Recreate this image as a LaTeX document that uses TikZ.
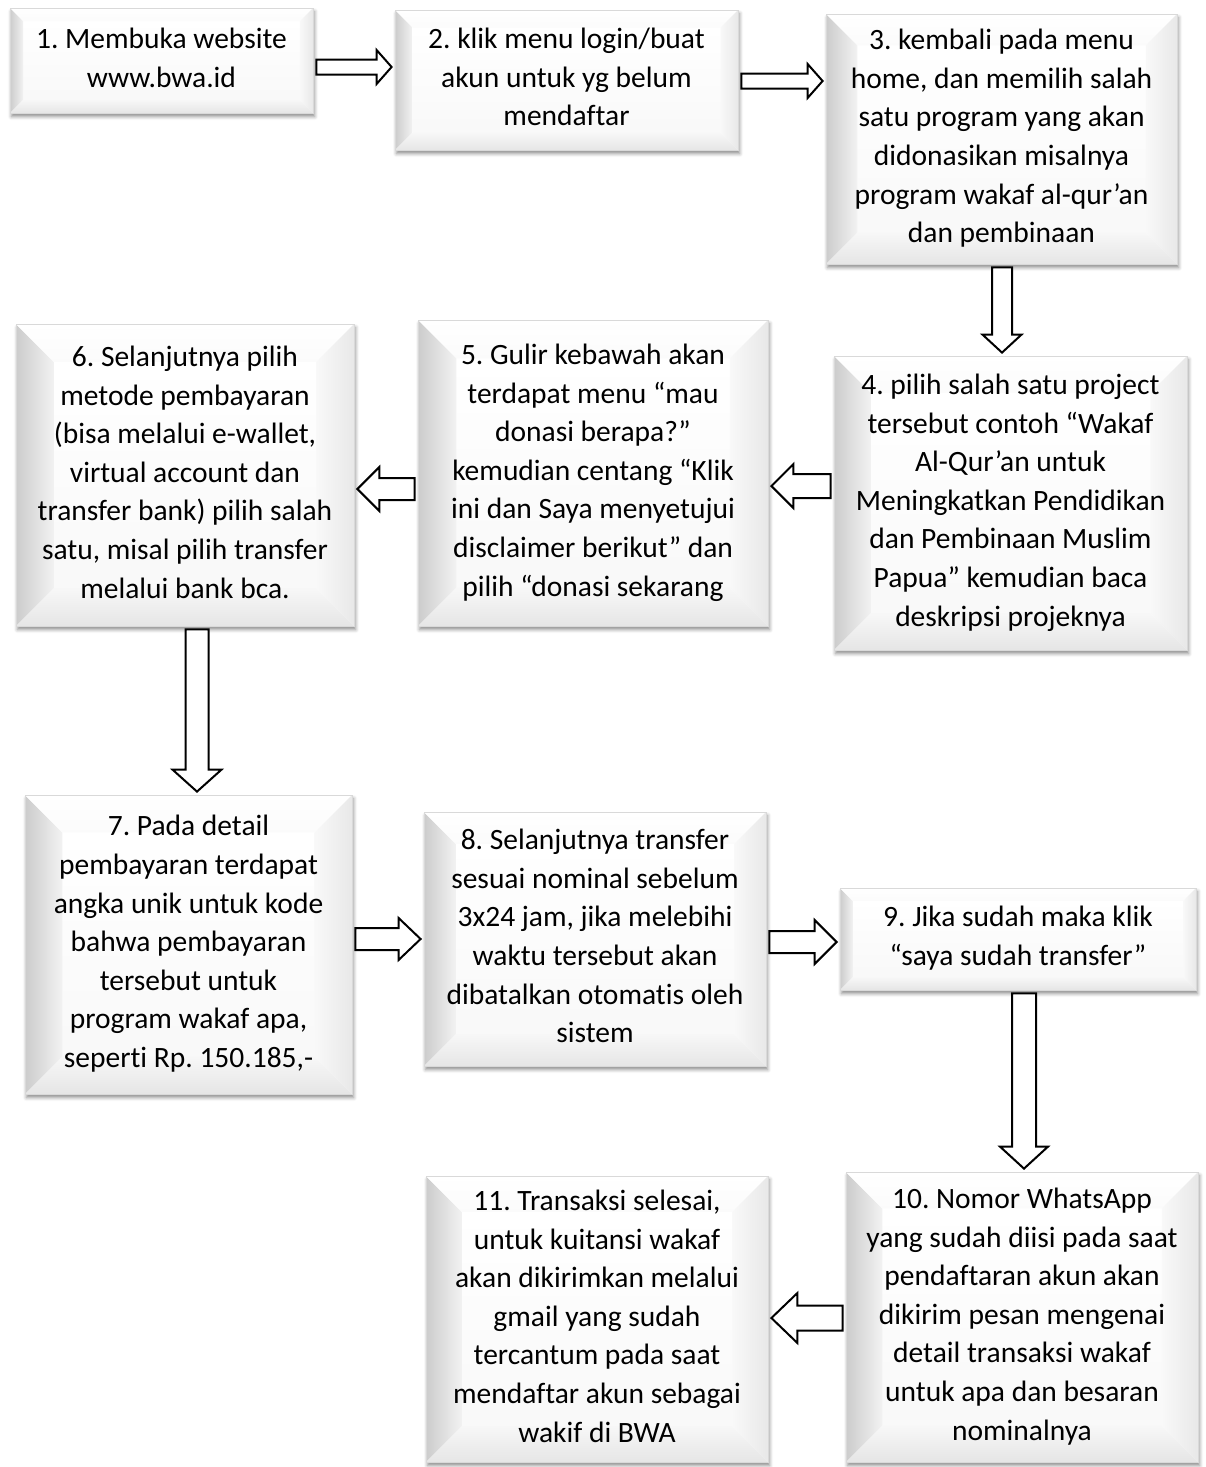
\documentclass[tikz,border=0pt]{standalone}
\usepackage{fontspec}
\setmainfont{Carlito}[Ligatures=NoCommon]
\usetikzlibrary{calc,shadows.blur}

\tikzset{
  stepbox/.style 2 args={rectangle, inner sep=0pt, align=center,
    minimum width=#1*0.5pt, minimum height=#2*0.5pt, text depth=3pt,
    font=\fontsize{14.75}{19.3}\selectfont\frenchspacing,
    draw=gray!30, line width=0.4pt, fill=white,
    blur shadow={shadow xshift=0.8pt, shadow yshift=-1.8pt, shadow blur radius=1.8pt, shadow opacity=45},
    path picture={
      \path let \p1=(path picture bounding box.south west),
                \p2=(path picture bounding box.north east),
                \n1={0.125*min(\x2-\x1,\y2-\y1)} in
        coordinate (SW) at (\x1,\y1) coordinate (NE) at (\x2,\y2)
        coordinate (NW) at (\x1,\y2) coordinate (SE) at (\x2,\y1)
        coordinate (iSW) at (\x1+\n1,\y1+\n1) coordinate (iNE) at (\x2-\n1,\y2-\n1)
        coordinate (iNW) at (\x1+\n1,\y2-\n1) coordinate (iSE) at (\x2-\n1,\y1+\n1);
      \shade[top color=white, bottom color=gray!5] (iSW) rectangle (iNE);
      \shade[left color=gray!40, right color=gray!10] (SW) -- (iSW) -- (iNW) -- (NW) -- cycle;
      \shade[top color=white, bottom color=gray!3] (NW) -- (iNW) -- (iNE) -- (NE) -- cycle;
      \shade[left color=gray!5, right color=gray!18] (NE) -- (iNE) -- (iSE) -- (SE) -- cycle;
      \shade[top color=gray!6, bottom color=gray!20] (SW) -- (SE) -- (iSE) -- (iSW) -- cycle;
    }},
  blockarrow/.style={draw=black, line width=1pt, fill=white, line join=miter}
}

% hollow block arrows: from, to, y (or x), shaft, head, head length (px)
\newcommand{\hblock}[6]{%
  \draw[blockarrow] let \p1=(#1), \p2=(#2), \p3=(0,#3),
      \n1={(\x2-\x1)/abs(\x2-\x1)}, \n2={#4*0.25}, \n3={#5*0.25}, \n4={#6*0.5+1.5} in
    (\x1+\n1*1.5pt,\y3-\n2*1pt) -- (\x2-\n1*\n4*1pt,\y3-\n2*1pt) -- (\x2-\n1*\n4*1pt,\y3-\n3*1pt)
    -- (\x2-\n1*1.5pt,\y3) -- (\x2-\n1*\n4*1pt,\y3+\n3*1pt) -- (\x2-\n1*\n4*1pt,\y3+\n2*1pt)
    -- (\x1+\n1*1.5pt,\y3+\n2*1pt) -- cycle;}
\newcommand{\vblock}[6]{%
  \draw[blockarrow] let \p1=(#1), \p2=(#2), \p3=(#3,0),
      \n1={(\y2-\y1)/abs(\y2-\y1)}, \n2={#4*0.25}, \n3={#5*0.25}, \n4={#6*0.5+1.5} in
    (\x3-\n2*1pt,\y1+\n1*1.5pt) -- (\x3-\n2*1pt,\y2-\n1*\n4*1pt) -- (\x3-\n3*1pt,\y2-\n1*\n4*1pt)
    -- (\x3,\y2-\n1*1.5pt) -- (\x3+\n3*1pt,\y2-\n1*\n4*1pt) -- (\x3+\n2*1pt,\y2-\n1*\n4*1pt)
    -- (\x3+\n2*1pt,\y1+\n1*1.5pt) -- cycle;}

\begin{document}
\begin{tikzpicture}[x=0.5pt,y=-0.5pt]
\useasboundingbox (0,0) rectangle (1205,1467);

\node[stepbox={303}{105}] (b1) at (161.5,60.5) {1. Membuka website\\www.bwa.id};
\node[stepbox={343}{140}] (b2) at (566.5,80) {2. klik menu login/buat\\akun untuk yg belum\\mendaftar};
\node[stepbox={351}{250}] (b3) at (1001.5,139) {3. kembali pada menu\\home, dan memilih salah\\satu program yang akan\\didonasikan misalnya\\program wakaf al-qur’an\\dan pembinaan};

\node[stepbox={353}{294}] (b4) at (1010.5,503) {4. pilih salah satu project\\tersebut contoh “Wakaf\\Al-Qur’an untuk\\Meningkatkan Pendidikan\\dan Pembinaan Muslim\\Papua” kemudian baca\\deskripsi projeknya};
\node[stepbox={350}{306}] (b5) at (593,473) {5. Gulir kebawah akan\\terdapat menu “mau\\donasi berapa?”\\kemudian centang “Klik\\ini dan Saya menyetujui\\disclaimer berikut” dan\\pilih “donasi sekarang};
\node[stepbox={338}{302}] (b6) at (185,475) {6. Selanjutnya pilih\\metode pembayaran\\(bisa melalui e-wallet,\\virtual account dan\\transfer bank) pilih salah\\satu, misal pilih transfer\\melalui bank bca.};

\node[stepbox={327}{299}] (b7) at (188.5,944.5) {7. Pada detail\\pembayaran terdapat\\angka unik untuk kode\\bahwa pembayaran\\tersebut untuk\\program wakaf apa,\\seperti Rp. 150.185,-};
\node[stepbox={342}{254}] (b8) at (595,939) {8. Selanjutnya transfer\\sesuai nominal sebelum\\3x24 jam, jika melebihi\\waktu tersebut akan\\dibatalkan otomatis oleh\\sistem};
\node[stepbox={356}{102}] (b9) at (1018,939) {9. Jika sudah maka klik\\“saya sudah transfer”};

\node[stepbox={352}{290}] (b10) at (1022,1317) {10. Nomor WhatsApp\\yang sudah diisi pada saat\\pendaftaran akun akan\\dikirim pesan mengenai\\detail transaksi wakaf\\untuk apa dan besaran\\nominalnya};
\node[stepbox={342}{286}] (b11) at (597,1319) {11. Transaksi selesai,\\untuk kuitansi wakaf\\akan dikirimkan melalui\\gmail yang sudah\\tercantum pada saat\\mendaftar akun sebagai\\wakif di BWA};

% arrows
\hblock{b1.east}{b2.west}{67}{15}{34}{15}
\hblock{b2.east}{b3.west}{81}{15}{34}{15}
\vblock{b3.south}{b4.north}{1002}{20}{39}{18}
\hblock{b4.west}{b5.east}{486}{24}{44}{22}
\hblock{b5.west}{b6.east}{489}{22}{44}{22}
\vblock{b6.south}{b7.north}{197}{23}{49}{22}
\hblock{b7.east}{b8.west}{939}{22}{42}{22}
\hblock{b8.east}{b9.west}{942}{22}{44}{22}
\vblock{b9.south}{b10.north}{1024}{24}{48}{22}
\hblock{b10.west}{b11.east}{1318}{25}{50}{26}

\end{tikzpicture}
\end{document}
